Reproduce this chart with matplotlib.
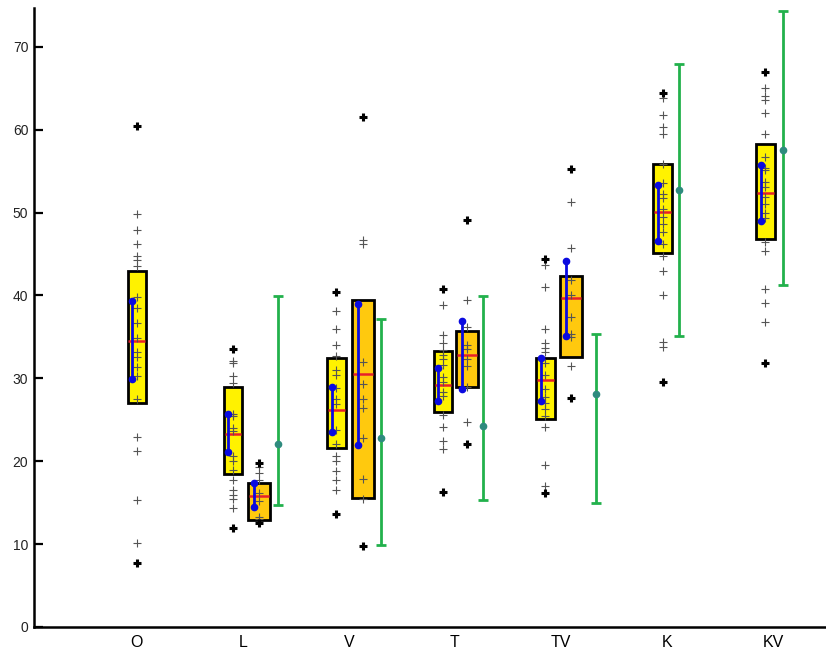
import numpy as np
import matplotlib
matplotlib.use('Agg')
import matplotlib.pyplot as plt

plt.rcParams['font.family'] = ['Liberation Sans', 'DejaVu Sans']

# categories on the x axis
categories = ['O', 'L', 'V', 'T', 'TV', 'K', 'KV']

# one entry per box: category index, kind (0 = yellow, 1 = orange)
box_cat = [0, 1, 1, 2, 2, 3, 3, 4, 4, 5, 6]
box_kind = [0, 0, 1, 0, 1, 0, 1, 0, 1, 0, 0]
box_q1 = [27.0, 18.4, 12.9, 21.6, 15.5, 25.9, 28.9, 25.1, 32.6, 45.1, 46.8]
box_q3 = [43.0, 29.0, 17.4, 32.5, 39.4, 33.3, 35.7, 32.4, 42.4, 55.8, 58.3]
box_med = [34.5, 23.3, 15.8, 26.2, 30.5, 29.2, 32.8, 29.8, 39.7, 50.1, 52.3]
ci_lo = [29.9, 21.1, 14.5, 23.5, 22.0, 27.3, 28.7, 27.2, 35.1, 46.6, 49.0]
ci_hi = [39.3, 25.7, 17.4, 28.9, 39.0, 31.3, 36.9, 32.5, 44.2, 53.3, 55.7]
box_min = [7.7, 11.9, 12.5, 13.6, 9.8, 16.3, 22.1, 16.2, 27.6, 29.6, 31.9]
box_max = [60.4, 33.5, 19.8, 40.4, 61.5, 40.8, 49.1, 44.4, 55.2, 64.4, 66.9]

# individual observations per box
box_points = [
    [49.8, 47.9, 46.2, 44.7, 44.3, 43.6, 39.8, 38.5, 36.7, 34.8, 33.2, 32.6,
     31.4, 30.3, 27.5, 22.9, 21.2, 15.3, 10.1],
    [32.1, 31.8, 30.3, 29.4, 25.7, 25.4, 24.0, 23.6, 20.6, 20.0, 18.9, 17.7,
     16.5, 15.9, 15.4, 14.4],
    [19.3, 18.6, 17.7, 16.1, 15.2, 13.3, 13.0],
    [38.1, 36.0, 34.0, 32.7, 31.0, 30.4, 28.8, 27.5, 26.9, 23.8, 22.1, 20.6,
     20.0, 18.8, 17.7, 16.5],
    [46.7, 46.2, 32.0, 29.3, 27.5, 26.4, 22.8, 17.9, 15.4],
    [38.8, 35.2, 34.3, 33.4, 32.8, 32.3, 31.6, 30.1, 29.6, 28.3, 27.9, 25.6,
     24.1, 22.4, 21.5],
    [39.5, 36.2, 34.0, 33.5, 32.3, 31.5, 28.9, 24.7],
    [43.7, 41.0, 36.0, 34.3, 33.6, 33.2, 31.8, 30.4, 28.7, 27.7, 27.0, 26.3,
     25.4, 24.1, 19.5, 17.0],
    [51.3, 45.7, 41.8, 40.1, 37.4, 35.3, 35.0, 31.5],
    [63.8, 61.8, 60.3, 59.5, 55.9, 53.6, 52.2, 51.7, 50.4, 49.5, 48.6, 47.6,
     46.2, 44.8, 43.0, 40.0, 34.4, 33.8],
    [65.0, 64.0, 63.6, 62.0, 59.5, 56.7, 55.4, 55.1, 53.7, 53.1, 51.9, 51.0,
     49.9, 49.3, 46.4, 45.4, 40.8, 39.1, 36.8],
]

# green intervals
green_cat = [1, 2, 3, 4, 5, 6]
green_lo = [14.7, 9.9, 15.3, 15.0, 35.1, 41.2]
green_hi = [39.9, 37.1, 39.9, 35.4, 67.9, 74.3]
green_mid = [22.1, 22.8, 24.2, 28.1, 52.7, 57.6]

# layout: horizontal offsets from the category position
box_offset = [0.0, -0.094, 0.151, -0.118, 0.132, -0.113, 0.113, -0.146, 0.094, -0.042, -0.071]
green_offset = [0.327, 0.299, 0.264, 0.327, 0.116, 0.097]

fill_colors = ['#FFF200', '#FFC90E']
box_widths = [0.175, 0.2]

fig = plt.figure(figsize=(8.26, 6.49), dpi=100)
ax = fig.add_axes([0.041, 0.034, 0.959, 0.954])

x_cat = np.arange(1, len(categories) + 1)

for i in range(len(box_cat)):
    x = x_cat[box_cat[i]] + box_offset[i]
    w = box_widths[box_kind[i]]
    ax.bar(x, box_q3[i] - box_q1[i], bottom=box_q1[i], width=w,
           color=fill_colors[box_kind[i]], edgecolor='black', linewidth=2.0, zorder=2)
    ax.hlines(box_med[i], x - w / 2 + 0.008, x + w / 2 - 0.008, color='#E8202A', linewidth=1.8, zorder=3)
    pts = box_points[i]
    ax.scatter([x] * len(pts), pts, marker='+', s=30, color='#555555', linewidths=0.8, zorder=4)
    ax.scatter([x, x], [box_min[i], box_max[i]], marker='+', s=30, color='black', linewidths=2.2, zorder=4)
    ax.plot([x - 0.045, x - 0.045], [ci_lo[i], ci_hi[i]], color='#0A0AE0', linewidth=2,
            marker='o', markersize=4.5, zorder=5)

for j in range(len(green_cat)):
    x = x_cat[green_cat[j]] + green_offset[j]
    ax.errorbar(x, green_mid[j], yerr=[[green_mid[j] - green_lo[j]], [green_hi[j] - green_mid[j]]],
                fmt='o', color='#22B14C', ecolor='#22B14C', elinewidth=2, capsize=3.5, capthick=2,
                markersize=4.5, markerfacecolor='#2E8B7E', markeredgecolor='#2E8B7E', zorder=3)

ax.set_xlim(0.028, 7.5)
ax.set_ylim(0, 74.7)
ax.set_xticks(x_cat)
ax.set_xticklabels(categories, fontsize=11.5)
ax.set_yticks(np.arange(0, 71, 10))
ax.tick_params(axis='x', length=0, pad=6)
ax.tick_params(axis='y', direction='in', length=6.5, width=1.6, pad=4, labelsize=10, labelcolor='#222222')

for side in ['top', 'right']:
    ax.spines[side].set_visible(False)
for side in ['left', 'bottom']:
    ax.spines[side].set_linewidth(1.8)

plt.savefig('out.png', dpi=100)
